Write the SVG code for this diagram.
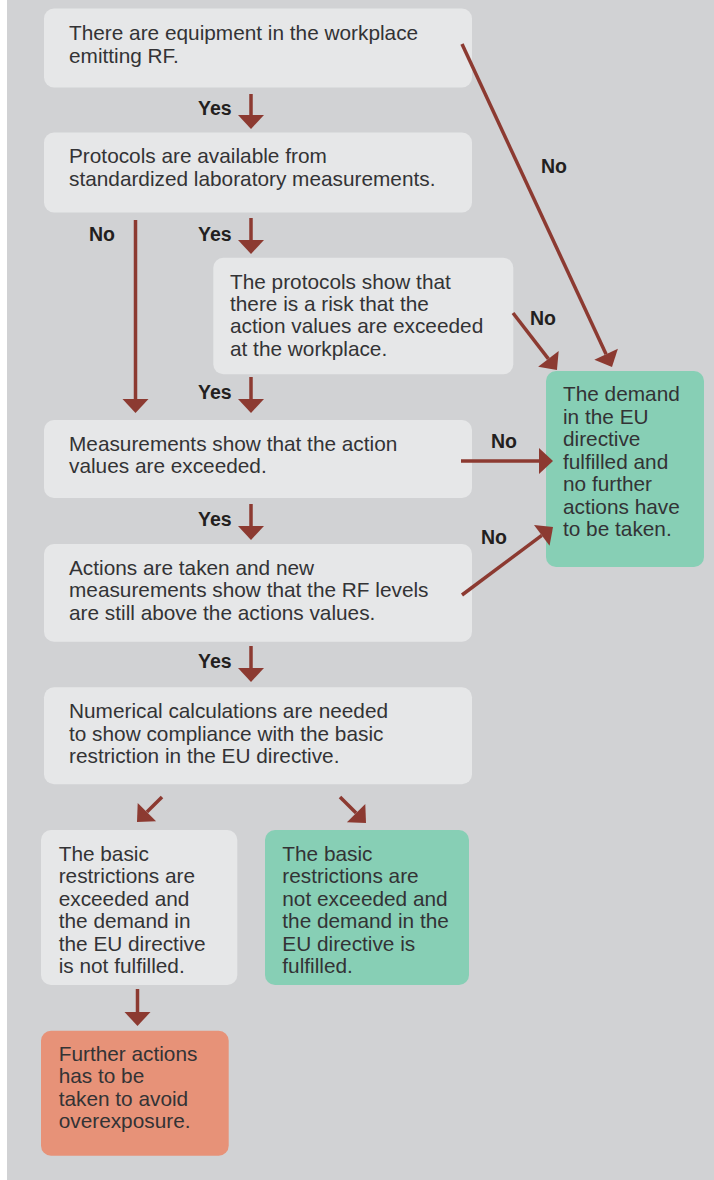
<svg xmlns="http://www.w3.org/2000/svg" width="714" height="1180" viewBox="0 0 714 1180">
<style>
.box{fill:#e6e7e8}
.ok{fill:#87cfb5}
.warn{fill:#e79278}
.t{font-family:"Liberation Sans",Arial,sans-serif;font-size:20.8px;fill:#333335}
.lbl{font-family:"Liberation Sans",Arial,sans-serif;font-size:19.5px;font-weight:bold;fill:#231f20}
.c{stroke:#8c3a31;stroke-width:3.5;fill:none;marker-end:url(#ah)}
</style>
<defs>
<marker id="ah" markerUnits="userSpaceOnUse" markerWidth="16" markerHeight="28" refX="0" refY="13" orient="auto" overflow="visible">
<path d="M0,0 L14,13 L0,26 Z" fill="#8c3a31"/>
</marker>
</defs>
<rect x="0" y="0" width="714" height="1180" fill="#ffffff"/>
<rect x="7" y="0" width="707" height="1180" fill="#d1d2d4"/>

<g id="n1">
<rect class="box" x="44" y="8.5" width="428" height="79" rx="10"/>
<text class="t" x="69" y="40">There are equipment in the workplace</text>
<text class="t" x="69" y="62.5">emitting RF.</text>
</g>
<g id="n2">
<rect class="box" x="44" y="132.5" width="428" height="80" rx="10"/>
<text class="t" x="69" y="163.3">Protocols are available from</text>
<text class="t" x="69" y="185.7">standardized laboratory measurements.</text>
</g>
<g id="n3">
<rect class="box" x="213.3" y="257.7" width="300" height="116.6" rx="10"/>
<text class="t" x="230" y="289">The protocols show that</text>
<text class="t" x="230" y="311">there is a risk that the</text>
<text class="t" x="230" y="333.3">action values are exceeded</text>
<text class="t" x="230" y="355.5">at the workplace.</text>
</g>
<g id="n4">
<rect class="box" x="44" y="420" width="428" height="78" rx="10"/>
<text class="t" x="69" y="450.7">Measurements show that the action</text>
<text class="t" x="69" y="472.5">values are exceeded.</text>
</g>
<g id="n5">
<rect class="box" x="44" y="544" width="428" height="97.7" rx="10"/>
<text class="t" x="69" y="575">Actions are taken and new</text>
<text class="t" x="69" y="597.3">measurements show that the RF levels</text>
<text class="t" x="69" y="620">are still above the actions values.</text>
</g>
<g id="n6">
<rect class="box" x="44" y="687.3" width="428" height="97" rx="10"/>
<text class="t" x="69" y="718.3">Numerical calculations are needed</text>
<text class="t" x="69" y="740.7">to show compliance with the basic</text>
<text class="t" x="69" y="763.3">restriction in the EU directive.</text>
</g>
<g id="n7">
<rect class="ok" x="546" y="371" width="158" height="196" rx="10"/>
<text class="t" x="563" y="401">The demand</text>
<text class="t" x="563" y="423.5">in the EU</text>
<text class="t" x="563" y="446">directive</text>
<text class="t" x="563" y="468.5">fulfilled and</text>
<text class="t" x="563" y="491">no further</text>
<text class="t" x="563" y="513.5">actions have</text>
<text class="t" x="563" y="536">to be taken.</text>
</g>
<g id="n8">
<rect class="box" x="41" y="830" width="196.3" height="155" rx="10"/>
<text class="t" x="58.7" y="861">The basic</text>
<text class="t" x="58.7" y="883.3">restrictions are</text>
<text class="t" x="58.7" y="905.7">exceeded and</text>
<text class="t" x="58.7" y="928">the demand in</text>
<text class="t" x="58.7" y="950.5">the EU directive</text>
<text class="t" x="58.7" y="972.8">is not fulfilled.</text>
</g>
<g id="n9">
<rect class="ok" x="265" y="830" width="204" height="155" rx="10"/>
<text class="t" x="282.3" y="861">The basic</text>
<text class="t" x="282.3" y="883.3">restrictions are</text>
<text class="t" x="282.3" y="905.7">not exceeded and</text>
<text class="t" x="282.3" y="928">the demand in the</text>
<text class="t" x="282.3" y="950.5">EU directive is</text>
<text class="t" x="282.3" y="972.8">fulfilled.</text>
</g>
<g id="n10">
<rect class="warn" x="41" y="1030.7" width="187.7" height="125" rx="10"/>
<text class="t" x="58.7" y="1061">Further actions</text>
<text class="t" x="58.7" y="1083.3">has to be</text>
<text class="t" x="58.7" y="1105.7">taken to avoid</text>
<text class="t" x="58.7" y="1128.3">overexposure.</text>
</g>

<g id="connectors">
<line class="c" x1="251" y1="94" x2="251" y2="115"/>
<line class="c" x1="251" y1="218" x2="251" y2="240"/>
<line class="c" x1="135.5" y1="220" x2="135.5" y2="399"/>
<line class="c" x1="251" y1="377" x2="251" y2="399"/>
<line class="c" x1="251" y1="504" x2="251" y2="526"/>
<line class="c" x1="251" y1="646" x2="251" y2="668"/>
<line class="c" x1="137.5" y1="989" x2="137.5" y2="1012"/>
<line class="c" x1="162" y1="797" x2="146.9" y2="812.1"/>
<line class="c" x1="340" y1="797" x2="356.1" y2="813.1"/>
<line class="c" x1="462" y1="44" x2="606.1" y2="354.3"/>
<line class="c" x1="513" y1="313" x2="548.4" y2="358.9"/>
<line class="c" x1="461" y1="461" x2="539" y2="461"/>
<line class="c" x1="462" y1="595" x2="541.8" y2="535.4"/>
<text class="lbl" x="198" y="115">Yes</text>
<text class="lbl" x="198" y="241">Yes</text>
<text class="lbl" x="89" y="241">No</text>
<text class="lbl" x="198" y="399">Yes</text>
<text class="lbl" x="198" y="526">Yes</text>
<text class="lbl" x="198" y="668">Yes</text>
<text class="lbl" x="541" y="173">No</text>
<text class="lbl" x="530" y="325">No</text>
<text class="lbl" x="491" y="448">No</text>
<text class="lbl" x="481" y="544">No</text>
</g>
</svg>
